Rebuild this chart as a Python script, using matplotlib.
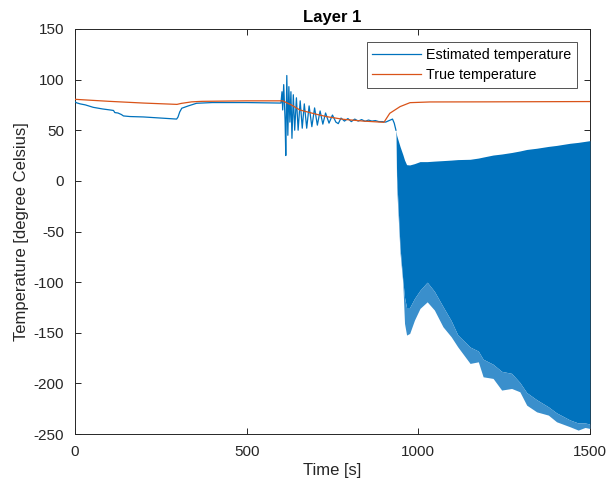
import matplotlib
matplotlib.use("Agg")
import matplotlib.pyplot as plt
import numpy as np

# ---------------- data ----------------
# True temperature
true_t = [0, 100, 200, 297, 310, 340, 370, 500, 605, 630, 655, 700, 733, 781, 840, 900,
          917, 947, 976, 1034, 1200, 1500]
true_v = [80.5, 78.5, 76.8, 75.5, 76.5, 78.0, 78.5, 79.0, 79.0, 75.0, 70.0, 66.0, 63.4, 60.8,
          59.0, 57.8, 66.7, 73.3, 77.2, 77.9, 78.0, 78.3]

# Estimated temperature (single-valued part, incl. the damped oscillation after 600 s)
est_t = [0, 5, 15, 30, 53, 80, 102, 112, 116, 125, 135, 141, 160, 199, 250, 296, 300, 305,
         311, 330, 354, 400, 500, 600,
         603, 605, 608, 612, 614, 617, 620, 623, 626, 629, 632, 636, 640, 645, 650, 656,
         662, 668, 675, 682, 690, 698, 706, 714, 722, 730, 740, 750, 760, 767, 775,
         785, 795, 805, 815, 825, 835, 845, 855, 865, 875, 885, 895, 905, 915, 925, 930, 935]
est_v = [78.0, 77.0, 76.0, 75.0, 72.6, 71.0, 70.0, 69.5, 67.4, 67.0, 65.5, 64.1, 63.5, 63.1,
         62.0, 61.0, 63.0, 68.0, 71.7, 74.0, 76.6, 77.3, 77.3, 76.8,
         88.0, 70.0, 95.0, 60.0, 25.0, 104.0, 45.0, 93.0, 58.0, 88.0, 42.0, 85.0, 50.0,
         82.0, 50.0, 79.0, 52.0, 76.0, 52.0, 74.0, 53.5, 72.0, 55.0, 69.0, 56.0, 67.0,
         57.0, 65.0, 58.0, 56.5, 62.0, 59.0, 61.5, 58.5, 61.0, 59.0, 60.5, 58.8, 60.0,
         59.0, 59.5, 58.5, 58.5, 58.0, 59.5, 61.0, 57.0, 50.0]

# Envelope of the dense oscillation after ~935 s
env_t = [935, 937, 947, 955, 960, 966, 975, 989, 1005, 1026, 1047, 1072, 1096, 1115, 1151,
         1175, 1189, 1218, 1243, 1272, 1296, 1316, 1345, 1379, 1403, 1442, 1466, 1486, 1500]
env_upper = [50.0, 45.0, 33.8, 26.0, 20.6, 16.0, 15.7, 17.0, 19.0, 19.0, 19.5, 20.0, 20.5,
             21.0, 21.3, 22.5, 23.5, 25.5, 26.5, 28.0, 29.5, 31.0, 32.2, 34.0, 35.0, 37.1,
             38.0, 39.0, 39.7]
env_inner = [50.0, 5.0, -66.0, -98.0, -115.0, -125.0, -125.0, -116.0, -108.0, -100.0, -109.0,
             -124.0, -138.0, -152.0, -164.0, -168.0, -176.0, -181.0, -188.0, -190.0, -199.0,
             -209.0, -216.0, -223.0, -229.0, -236.0, -239.0, -239.0, -240.0]
env_lower = [50.0, -5.7, -71.5, -101.0, -140.7, -152.2, -150.6, -137.4, -125.9, -119.4,
             -127.5, -144.0, -153.9, -163.8, -180.2, -178.6, -193.4, -195.0, -206.5, -204.9,
             -208.2, -221.4, -228.0, -231.2, -237.8, -242.7, -246.0, -243.4, -244.4]

x_ticks = [0, 500, 1000, 1500]
y_ticks = [-250, -200, -150, -100, -50, 0, 50, 100, 150]

# ---------------- style ----------------
plt.rcParams['font.family'] = ['Liberation Sans', 'DejaVu Sans']
plt.rcParams['axes.unicode_minus'] = False
BLUE = '#0072BD'
ORANGE = '#D95319'
AX = '#262626'

fig = plt.figure(figsize=(6.1, 4.9), dpi=100)
ax = fig.add_axes([0.123, 0.114, 0.844, 0.827])

ax.plot(est_t, est_v, color=BLUE, lw=0.9, label='Estimated temperature', zorder=3)
ax.fill_between(env_t, env_upper, env_inner, color=BLUE, lw=0, zorder=3)
ax.fill_between(env_t, env_inner, env_lower, color='#3a8fcc', lw=0, zorder=3)
ax.plot(true_t, true_v, color=ORANGE, lw=0.9, label='True temperature', zorder=4)

ax.set_xlim(0, 1500)
ax.set_ylim(-250, 150)
ax.set_xticks(x_ticks)
ax.set_yticks(y_ticks)
ax.tick_params(direction='in', length=4, width=0.7, colors=AX, labelsize=11,
               top=True, right=True, labeltop=False, labelright=False)
ax.tick_params(axis='x', pad=8)
ax.tick_params(axis='y', pad=8)
for s in ax.spines.values():
    s.set_color(AX)
    s.set_linewidth(0.7)

ax.set_xlabel('Time [s]', fontsize=12, color=AX, labelpad=3)
ax.set_ylabel('Temperature [degree Celsius]', fontsize=12, color=AX, labelpad=3)
ax.set_title('Layer 1', fontsize=12, fontweight='bold', color='black', pad=5)

leg = ax.legend(loc='upper right', fontsize=10.3, frameon=True, fancybox=False,
                edgecolor=AX, handlelength=3.4, borderaxespad=0.9, borderpad=0.4,
                labelspacing=0.45, handletextpad=0.35)
leg.get_frame().set_linewidth(0.7)

fig.savefig('out.png', dpi=100)
